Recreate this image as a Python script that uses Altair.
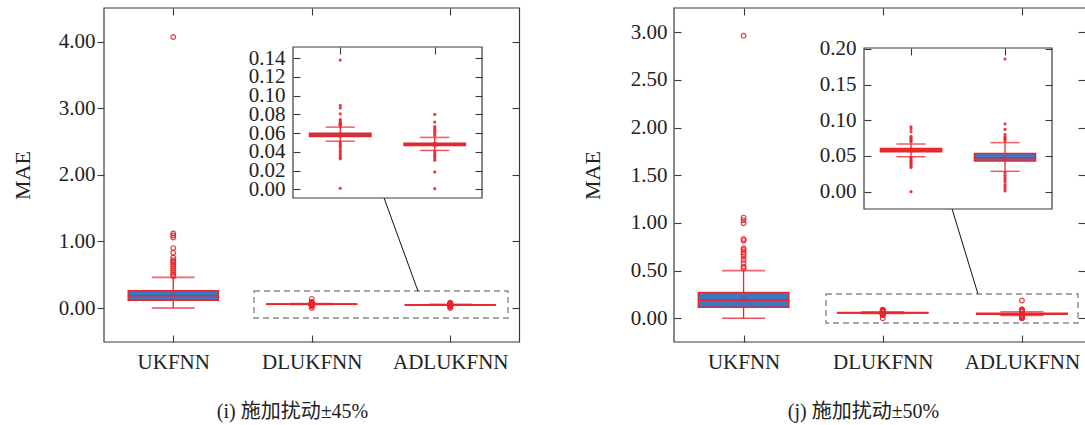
import json
import altair as alt
import pandas as pd

# ---------------------------------------------------------------- data
models = ["UKFNN", "DLUKFNN", "ADLUKFNN"]

# (i) disturbance ±45%
q1_i = [0.115, 0.0565, 0.0468]
med_i = [0.185, 0.058, 0.048]
q3_i = [0.26, 0.0598, 0.0492]
mean_i = [0.21, 0.058, 0.048]
lo_i = [0.0, 0.0514, 0.0415]
hi_i = [0.46, 0.0664, 0.0554]
out_uk_i = [4.07, 1.12, 1.09, 1.06, 0.90, 0.83, 0.76, 0.72, 0.70, 0.68,
            0.65, 0.62, 0.59, 0.56, 0.53, 0.50, 0.48]
out_dl_i = [0.138, 0.0896, 0.0868, 0.0807, 0.0745, 0.073, 0.0718, 0.0705,
            0.0695, 0.0685, 0.0675, 0.050, 0.048, 0.046, 0.044, 0.042,
            0.040, 0.038, 0.036, 0.034, 0.0325, 0.001]
out_adl_i = [0.080, 0.0718, 0.067, 0.065, 0.063, 0.061, 0.059, 0.057,
             0.040, 0.038, 0.0365, 0.035, 0.033, 0.031, 0.0186, 0.0007]

# (j) disturbance ±50%
q1_j = [0.115, 0.056, 0.043]
med_j = [0.19, 0.058, 0.0475]
q3_j = [0.27, 0.0605, 0.0535]
mean_j = [0.205, 0.058, 0.048]
lo_j = [0.0, 0.049, 0.0285]
hi_j = [0.50, 0.0668, 0.0687]
out_uk_j = [2.965, 1.056, 1.03, 0.997, 0.832, 0.815, 0.734, 0.717, 0.692,
            0.671, 0.647, 0.612, 0.577, 0.542, 0.524]
out_dl_j = [0.091, 0.088, 0.084, 0.0775, 0.0755, 0.0735, 0.0715, 0.0695,
            0.048, 0.046, 0.044, 0.042, 0.040, 0.038, 0.036, 0.034, 0.0]
out_adl_j = [0.186, 0.095, 0.0874, 0.080, 0.077, 0.075, 0.073, 0.071,
             0.0265, 0.023, 0.020, 0.017, 0.014, 0.010, 0.007, 0.004, 0.001]

captions = ["(i) 施加扰动±45%", "(j) 施加扰动±50%"]
main_ticks = [[0, 1, 2, 3, 4], [0, 0.5, 1, 1.5, 2, 2.5, 3]]
inset_ticks = [[0, 0.02, 0.04, 0.06, 0.08, 0.10, 0.12, 0.14],
               [0, 0.05, 0.10, 0.15, 0.20]]

# ---------------------------------------------------------------- style
FONT = "Liberation Serif"
CAP_FONT = "Liberation Serif, Noto Sans CJK SC"
RED = "#e8262d"
BLUE = "#3a78c4"
FRAME = "#3a3a3a"
TXT = "#222222"
BOX_HALF = 0.325
CAP_HALF = 0.155
W, H = 1085, 425
LABEL_EXPR = "%s[datum.value - 1]" % json.dumps(models)
ONE = pd.DataFrame({"k": [0]})


def box_table(q1, med, q3, mean, lo, hi):
    return pd.DataFrame({"model": models, "pos": [1, 2, 3], "q1": q1,
                         "med": med, "q3": q3, "mean": mean, "lo": lo, "hi": hi})


def outlier_table(groups):
    rows = []
    for k, vals in enumerate(groups):
        for v in vals:
            rows.append({"model": models[k], "pos": k + 1, "value": v})
    return pd.DataFrame(rows)


def ax(**kw):
    base = dict(grid=False, domain=False, tickSize=7, tickColor=FRAME,
                tickWidth=1.1, labelFont=FONT, labelFontSize=21,
                labelColor=TXT, labelOverlap=False, labelFlush=False,
                labelBound=False, zindex=1, title=None)
    base.update(kw)
    return alt.Axis(**base)


def mirror(**kw):
    return ax(labels=False, **kw)


def frame_rect(xs, ys, xd, yd, fill=None, dash=None, color=FRAME, width=1.2):
    props = dict(stroke=color, strokeWidth=width)
    props["fill"] = fill if fill else "transparent"
    if dash:
        props["strokeDash"] = dash
    return alt.Chart(ONE).mark_rect(**props).encode(
        x=alt.XDatum(xd[0], type="quantitative", scale=xs, axis=None),
        x2=alt.X2Datum(xd[1]),
        y=alt.YDatum(yd[0], type="quantitative", scale=ys, axis=None),
        y2=alt.Y2Datum(yd[1]),
    )


def box_marks(box, out, xf, xs, ys, inset):
    X = lambda f: alt.X(f, type="quantitative", scale=xs, axis=None)
    Y = lambda f: alt.Y(f, type="quantitative", scale=ys, axis=None)
    geo = alt.Chart(box)
    pts = alt.Chart(out)
    if inset:
        geo = geo.transform_filter("datum.pos > 1").transform_calculate(ipos="datum.pos - 1")
        pts = pts.transform_filter("datum.pos > 1").transform_calculate(ipos="datum.pos - 1")
    geo = geo.transform_calculate(
        xl=f"datum.{xf} - {BOX_HALF}", xr=f"datum.{xf} + {BOX_HALF}",
        cl=f"datum.{xf} - {CAP_HALF}", cr=f"datum.{xf} + {CAP_HALF}")
    stem = geo.mark_rule(color=RED, strokeWidth=1.3).encode(
        x=X(xf), y=Y("lo"), y2=alt.Y2("hi"))
    body = geo.mark_rect(fill=BLUE, stroke=RED, strokeWidth=1.5).encode(
        x=X("xl"), x2=alt.X2("xr"), y=Y("q1"), y2=alt.Y2("q3"))
    median = geo.mark_rule(color=RED, strokeWidth=1.6).encode(
        x=X("xl"), x2=alt.X2("xr"), y=Y("med"))
    cap_hi = geo.mark_rule(color=RED, opacity=0.7, strokeWidth=1.6).encode(
        x=X("cl"), x2=alt.X2("cr"), y=Y("hi"))
    cap_lo = geo.mark_rule(color=RED, opacity=0.8, strokeWidth=1.4).encode(
        x=X("cl"), x2=alt.X2("cr"), y=Y("lo"))
    mean = geo.mark_point(shape="square", size=14, color=RED, filled=False,
                          strokeWidth=1).encode(x=X(xf), y=Y("mean"))
    if inset:
        dots = pts.mark_circle(size=10, color=RED, opacity=0.9).encode(
            x=X(xf), y=Y("value"))
    else:
        dots = pts.mark_point(shape="circle", size=22, color=RED, filled=False,
                              strokeWidth=1.2, opacity=0.9).encode(x=X(xf), y=Y("value"))
    return [stem, body, median, cap_hi, cap_lo, mean, dots]


def panel(box, out, k, geom):
    # main view
    xs = alt.Scale(domain=[0.5, 3.5], range=geom["xr"], nice=False, zero=False)
    ys = alt.Scale(domain=geom["yd"], range=[342, 8], nice=False, zero=False)
    outline = frame_rect(xs, ys, [0.5, 3.5], geom["yd"])
    zoom = frame_rect(xs, ys, geom["zx"], geom["zy"], dash=[6, 4],
                      color="#8a8a8a", width=1.4)
    link = alt.Chart(ONE).mark_rule(color="#111111", strokeWidth=1).encode(
        x=alt.XDatum(geom["link"][0], type="quantitative", scale=xs, axis=None),
        y=alt.YDatum(geom["link"][1], type="quantitative", scale=ys, axis=None),
        x2=alt.X2Datum(geom["link"][2]),
        y2=alt.Y2Datum(geom["link"][3]),
    )
    guide_a = alt.Chart(box).mark_point(opacity=0).encode(
        x=alt.X("pos:Q", scale=xs, axis=ax(
            orient="bottom", values=[1, 2, 3], offset=-90, labelExpr=LABEL_EXPR,
            labelPadding=9, title=captions[k], titleFont=CAP_FONT,
            titleFontSize=20, titleFontWeight="normal", titleColor=TXT,
            titleX=geom["capx"], titleY=76, titleAlign="center",
            titleBaseline="middle")),
        y=alt.Y("med:Q", scale=ys, axis=ax(
            orient="left", values=main_ticks[k], format=".2f",
            offset=geom["yoff"], labelPadding=geom["ypad"], title="MAE",
            titleFont=FONT, titleFontSize=22, titleFontWeight="normal",
            titleColor=TXT, titleX=geom["maex"], titleY=175, titleAngle=270,
            titleAlign="center", titleBaseline="middle")),
    )
    guide_b = alt.Chart(box).mark_point(opacity=0).encode(
        x=alt.X("pos:Q", scale=xs, axis=mirror(orient="top", values=[1, 2, 3], offset=-15)),
        y=alt.Y("med:Q", scale=ys, axis=mirror(orient="right", values=main_ticks[k],
                                               offset=geom["roff"])),
    )
    main = alt.layer(outline, zoom, link,
                     *box_marks(box, out, "pos", xs, ys, False),
                     guide_a, guide_b).resolve_axis(x="independent", y="independent")

    # magnified view
    ixs = alt.Scale(domain=[0.5, 2.5], range=geom["ixr"], nice=False, zero=False)
    iys = alt.Scale(domain=geom["iyd"], range=geom["iyr"], nice=False, zero=False)
    ibox = alt.Chart(box).transform_filter("datum.pos > 1").transform_calculate(
        ipos="datum.pos - 1")
    iframe = frame_rect(ixs, iys, [0.5, 2.5], geom["iyd"], fill="white")
    iguide_a = ibox.mark_point(opacity=0).encode(
        x=alt.X("ipos:Q", scale=ixs, axis=mirror(orient="top", values=[1, 2],
                                                  offset=geom["itop"])),
        y=alt.Y("med:Q", scale=iys, axis=ax(
            orient="left", values=inset_ticks[k], format=".2f",
            offset=geom["ileft"], labelPadding=geom["ipad"])),
    )
    iguide_b = ibox.mark_point(opacity=0).encode(
        y=alt.Y("med:Q", scale=iys, axis=mirror(orient="right", values=inset_ticks[k],
                                                offset=geom["iright"])),
    )
    inset = alt.layer(iframe, *box_marks(box, out, "ipos", ixs, iys, True),
                      iguide_a, iguide_b).resolve_axis(x="independent", y="independent")
    return [main, inset]


box_i = box_table(q1_i, med_i, q3_i, mean_i, lo_i, hi_i)
box_j = box_table(q1_j, med_j, q3_j, mean_j, lo_j, hi_j)
out_i = outlier_table([out_uk_i, out_dl_i, out_adl_i])
out_j = outlier_table([out_uk_j, out_dl_j, out_adl_j])

geom_i = dict(xr=[104, 519.5], yd=[-0.51, 4.505], zx=[1.583, 3.417], zy=[-0.15, 0.255],
              link=[2.522, 1.652, 2.767, 0.255], yoff=-104, ypad=2, maex=-82,
              roff=512 - W, capx=292,
              ixr=[293, 482], iyd=[-0.0093, 0.152], iyr=[198, 47],
              itop=-54, ileft=-300, ipad=8, iright=475 - W)
geom_j = dict(xr=[674, 1091.5], yd=[-0.249, 3.255], zx=[1.592, 3.403], zy=[-0.049, 0.255],
              link=[2.498, 1.147, 2.684, 0.255], yoff=-681, ypad=7, maex=-89,
              roff=-7, capx=863,
              ixr=[864, 1052], iyd=[-0.0243, 0.2014], iyr=[209, 48],
              itop=-55, ileft=-871, ipad=8, iright=1045 - W)

layers = panel(box_i, out_i, 0, geom_i) + panel(box_j, out_j, 1, geom_j)

chart = alt.layer(*layers).resolve_scale(
    x="independent", y="independent"
).resolve_axis(
    x="independent", y="independent"
).properties(
    width=W, height=H, padding=0,
    autosize=alt.AutoSizeParams(type="none"),
    background="white",
).configure_view(stroke=None)

chart.save("out.html", embed_options={"renderer": "svg", "actions": False})
